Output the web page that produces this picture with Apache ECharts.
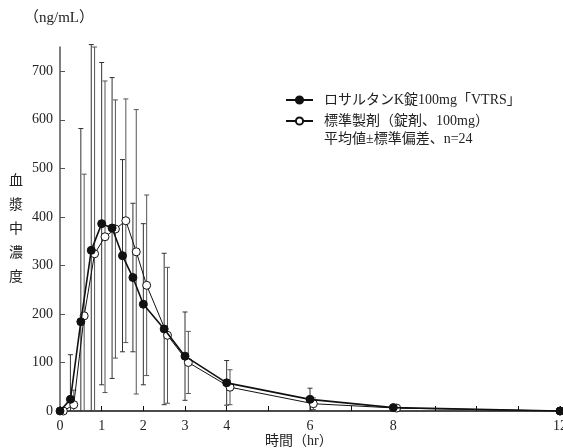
<!DOCTYPE html>
<html>
<head>
<meta charset="utf-8">
<script src="https://cdn.jsdelivr.net/npm/echarts@6/dist/echarts.min.js"></script>
<style>html,body{margin:0;padding:0;background:#fff}#c{width:563px;height:448px}</style>
</head>
<body>
<div id="c"></div>
<script>
// Data
const seriesNames = ['ロサルタンK錠100mg「VTRS」', '標準製剤（錠剤、100mg）'];
const noteText = '平均値±標準偏差、n=24';
const timesA = [0, 0.25, 0.5, 0.75, 1, 1.25, 1.5, 1.75, 2, 2.5, 3, 4, 6, 8, 12];
const meanA  = [0, 24, 184, 331, 386, 377, 320, 275, 220, 169, 113, 58, 24, 7, 0];
const sdA    = [0, 92, 398, 424, 332, 310, 198, 153, 166, 156, 91, 46, 23, 4, 0];
const timesB = [0.08, 0.33, 0.58, 0.83, 1.08, 1.33, 1.58, 1.83, 2.08, 2.58, 3.08, 4.08, 6.08, 8.08, 12];
const meanB  = [0, 13, 196, 324, 359, 375, 392, 328, 259, 156, 100, 49, 15, 6, 0];
const sdB    = [0, 30, 292, 426, 321, 266, 251, 293, 186, 140, 64, 36, 12, 3, 0];
const xTickLabels = [0, 1, 2, 3, 4, 6, 8, 12];
const yUnit = '（ng/mL）';
const yName = '血\n漿\n中\n濃\n度';
const xName = '時間（hr）';

const FONT = '"Liberation Serif", "Noto Sans CJK JP", serif';
const TXT = '#222';

function errRender(color) {
  return function (params, api) {
    const x = api.value(0), m = api.value(1), s = api.value(2);
    if (!s) return null;
    const hi = api.coord([x, m + s]);
    const loClamped = m - s < 0;
    const lo = api.coord([x, Math.max(0, m - s)]);
    const cap = 2.5;
    const st = { stroke: color, lineWidth: 1 };
    const children = [
      { type: 'line', shape: { x1: hi[0], y1: hi[1], x2: lo[0], y2: lo[1] }, style: st },
      { type: 'line', shape: { x1: hi[0] - cap, y1: hi[1], x2: hi[0] + cap, y2: hi[1] }, style: st }
    ];
    if (!loClamped) children.push({ type: 'line', shape: { x1: lo[0] - cap, y1: lo[1], x2: lo[0] + cap, y2: lo[1] }, style: st });
    return { type: 'group', children: children };
  };
}

const chart = echarts.init(document.getElementById('c'), null, { renderer: 'canvas' });
chart.setOption({
  animation: false,
  backgroundColor: '#fff',
  textStyle: { fontFamily: FONT },
  grid: { left: 60, right: 3, top: 47, bottom: 37, outerBoundsMode: 'none', containLabel: false },
  legend: {
    orient: 'vertical', left: 285, top: 93, padding: 0, itemWidth: 27, itemHeight: 9, itemGap: 7,
    data: [seriesNames[0], seriesNames[1]],
    textStyle: { fontFamily: FONT, fontSize: 14, color: TXT, padding: [0, 0, 0, 6] }
  },
  xAxis: {
    type: 'value', min: 0, max: 12, interval: 1,
    axisLine: { lineStyle: { color: '#111', width: 1.5 } },
    axisTick: { inside: true, length: 5, lineStyle: { color: '#111' } },
    splitLine: { show: false },
    axisLabel: {
      margin: 8, fontFamily: FONT, fontSize: 14, color: TXT, hideOverlap: false,
      formatter: function (v) { return xTickLabels.indexOf(v) >= 0 ? String(v) : ''; }
    }
  },
  yAxis: {
    type: 'value', min: 0, max: 750, interval: 100,
    name: yName, nameLocation: 'middle', nameRotate: 0, nameGap: 37,
    nameTextStyle: { fontFamily: FONT, fontSize: 14, color: TXT, lineHeight: 24 },
    axisLine: { show: true, lineStyle: { color: '#555', width: 1.5 } },
    axisTick: { show: true, inside: true, length: 5, lineStyle: { color: '#555' } },
    splitLine: { show: false },
    axisLabel: { margin: 7, fontFamily: FONT, fontSize: 14, color: TXT, showMaxLabel: false }
  },
  graphic: [
    { type: 'text', left: 24, top: 11, style: { text: yUnit, font: '15px ' + FONT, fill: TXT } },
    { type: 'text', left: 265, top: 434, style: { text: xName, font: '14px ' + FONT, fill: TXT } },
    { type: 'text', left: 324, top: 132, style: { text: noteText, font: '14px ' + FONT, fill: TXT } }
  ],
  series: [
    {
      type: 'custom', name: 'errB', renderItem: errRender('#555'), z: 1,
      encode: { x: 0, y: 1 }, silent: true,
      data: timesB.map((t, i) => [t, meanB[i], sdB[i]])
    },
    {
      type: 'custom', name: 'errA', renderItem: errRender('#333'), z: 1,
      encode: { x: 0, y: 1 }, silent: true,
      data: timesA.map((t, i) => [t, meanA[i], sdA[i]])
    },
    {
      type: 'line', name: seriesNames[1], z: 3,
      data: timesB.map((t, i) => [t, meanB[i]]),
      symbol: 'circle', symbolSize: 8,
      lineStyle: { color: '#111', width: 1 },
      itemStyle: { color: '#fff', borderColor: '#111', borderWidth: 1 }
    },
    {
      type: 'line', name: seriesNames[0], z: 4,
      data: timesA.map((t, i) => [t, meanA[i]]),
      symbol: 'circle', symbolSize: 8,
      lineStyle: { color: '#111', width: 1.6 },
      itemStyle: { color: '#111', borderColor: '#111', borderWidth: 1 }
    }
  ]
});
</script>
</body>
</html>
